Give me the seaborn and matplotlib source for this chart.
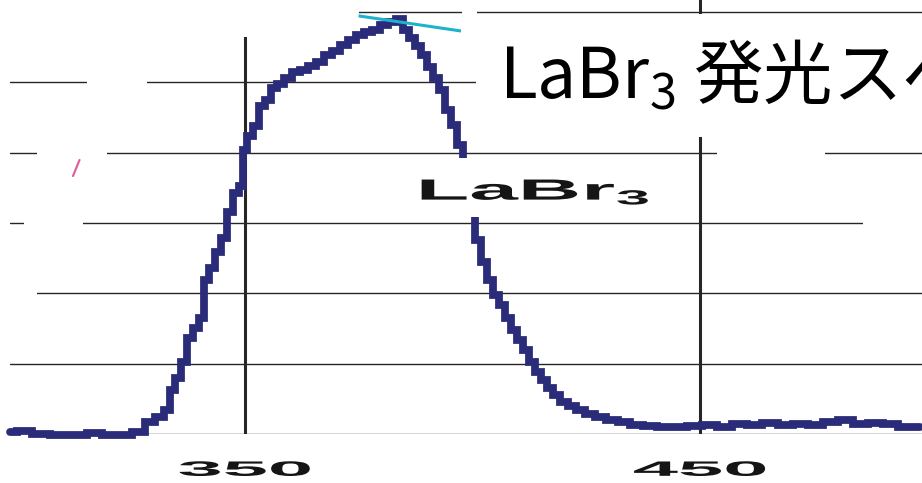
import numpy as np
import pandas as pd
import seaborn as sns
import matplotlib
matplotlib.use("Agg")
import matplotlib.pyplot as plt
from matplotlib.patches import Rectangle
from matplotlib.lines import Line2D
from matplotlib.patheffects import AbstractPathEffect
from matplotlib.transforms import Affine2D

# LaBr3 emission spectrum (wavelength in nm, relative intensity)
wavelength = [
    298.4, 301.6, 304.9, 309.3, 313.7, 317.0, 320.3, 323.6, 326.9, 329.1,
    331.3, 333.1, 334.0, 335.3, 336.6, 337.9, 339.2, 340.5, 341.4, 342.7,
    344.1, 345.4, 346.7, 348.0, 349.3, 349.8, 351.1, 352.4, 353.7, 355.1,
    356.4, 357.7, 359.5, 361.2, 363.0, 364.7, 366.5, 368.2, 370.0, 371.8,
    373.5, 375.3, 377.0, 378.8, 380.5, 382.3, 384.1, 385.4, 386.7, 388.0,
    389.3, 390.7, 392.0, 393.3, 394.6, 395.9, 397.3, 398.6, 399.9, 401.2,
    402.5, 403.8, 405.2, 406.5, 407.8, 409.1, 410.4, 411.8, 413.1, 414.4,
    415.7, 417.0, 418.4, 420.1, 421.9, 423.6, 425.8, 428.0, 430.7, 433.3,
    435.9, 439.0, 442.1, 445.6, 448.9, 452.2, 455.5, 458.8, 462.1, 465.4,
    468.7, 472.0, 475.3, 478.6, 481.9, 485.2, 488.5, 491.8, 495.1, 498.4,
]
intensity = [
    0.6, 0.9, 0.0, -0.3, -0.3, 0.3, -0.3, -0.3, 0.6, 3.4,
    4.8, 6.8, 12.5, 15.9, 20.5, 27.3, 30.1, 33.0, 43.8, 47.2,
    51.8, 55.7, 63.1, 68.5, 70.5, 80.8, 84.8, 87.6, 93.3, 95.0,
    98.4, 99.5, 101.2, 103.0, 103.5, 104.7, 105.8, 107.8, 108.9, 110.6,
    112.1, 113.5, 114.3, 114.9, 116.3, 117.2, 118.0, 114.9, 112.6, 110.3,
    107.8, 104.4, 101.2, 97.8, 92.1, 87.9, 82.2, 73.7, 63.7, 55.2,
    48.9, 43.8, 39.5, 36.7, 33.0, 29.6, 26.7, 23.9, 20.5, 17.6,
    15.4, 13.1, 11.1, 9.1, 8.0, 6.8, 5.7, 4.8, 4.0, 3.4,
    2.6, 2.3, 2.0, 2.0, 2.3, 2.6, 2.0, 2.8, 2.6, 3.1,
    2.6, 2.8, 2.6, 3.4, 4.0, 2.8, 3.1, 2.8, 2.0, 2.0,
]

# tangent drawn across the top of the peak
tangent_wavelength = [375.0, 397.5]
tangent_intensity = [118.9, 114.6]

major_ticks = [350, 450]
major_tick_labels = ["350", "450"]
minor_ticks = [400]
grid_levels = [0, 20, 40, 60, 80, 100, 120]

series_label = r"LaBr$_\mathregular{3}$"
title_text = r"LaBr$_\mathregular{3}$ 発光スペクトル"

W, H = 922, 483
CURVE = "#2a2c7a"
GRID = "#262626"


class Stretched(AbstractPathEffect):
    """Scale text glyphs about their own centre (wide display lettering)."""

    def __init__(self, sx=1.0, sy=1.0):
        super().__init__()
        self._sx = sx
        self._sy = sy

    def draw_path(self, renderer, gc, tpath, affine, rgbFace=None):
        ext = tpath.get_extents(affine)
        cx = 0.5 * (ext.x0 + ext.x1)
        cy = 0.5 * (ext.y0 + ext.y1)
        t = affine + Affine2D().translate(-cx, -cy).scale(self._sx, self._sy).translate(cx, cy)
        renderer.draw_path(gc, tpath, t, rgbFace)


sns.set_theme(style="white")
plt.rcParams["font.family"] = ["Liberation Sans", "DejaVu Sans"]

fig = plt.figure(figsize=(W / 100, H / 100), dpi=100)
fig.patch.set_facecolor("white")


def fx(px):
    return px / W


def fy(py):
    return 1 - py / H


# plot area: baseline 0 at y=434 px, 20 units per 70.33 px
ax = fig.add_axes([fx(10), fy(434), 1 - fx(10), 434 / H])
ax.set_facecolor("white")
ax.set_xlim(298.4, 498.8)
ax.set_ylim(0, 434 / 70.33 * 20)
ax.set_axisbelow(True)

df = pd.DataFrame({"wavelength": wavelength, "intensity": intensity})
sns.lineplot(data=df, x="wavelength", y="intensity", ax=ax, color=CURVE,
             lw=5.6, drawstyle="steps-mid", zorder=2, clip_on=False,
             solid_joinstyle="miter")

ax.plot(tangent_wavelength, tangent_intensity, color="#1eb2cc", lw=2.2, zorder=2.2,
        solid_capstyle="butt")

ax.set_yticks(grid_levels)
ax.set_yticklabels([])
ax.tick_params(axis="y", length=0)
ax.grid(axis="y", color=GRID, lw=1.0)

ax.set_xticks(major_ticks)
ax.set_xticklabels(major_tick_labels, fontsize=15, color="#151515", fontweight="bold",
                   path_effects=[Stretched(3.9, 1.0)])
ax.set_xticks(minor_ticks, minor=True)
ax.tick_params(axis="x", which="major", direction="out", length=5.8, width=2.2,
               color=GRID, pad=13.5)
ax.tick_params(axis="x", which="minor", direction="out", length=2.2, width=1.4,
               color=GRID)
ax.grid(axis="x", which="major", color=GRID, lw=2.2)
ax.set_xlabel("")
ax.set_ylabel("")
for s in ax.spines.values():
    s.set_visible(False)

# blank panels laid over the grid (pixel boxes x0, y0, x1, y1)
blank_boxes = [
    (0, 0, 359, 37),
    (462, 0, 477, 40),
    (87, 70, 147, 95),
    (37, 140, 107, 165),
    (24, 210, 83, 235),
    (0, 282, 37, 305),
    (476, 14, 922, 137),
    (717, 143, 825, 163),
    (863, 212, 922, 232),
]
for x0, y0, x1, y1 in blank_boxes:
    ax.add_patch(Rectangle((fx(x0), fy(y1)), fx(x1) - fx(x0), fy(y0) - fy(y1),
                           transform=fig.transFigure, facecolor="white",
                           edgecolor="none", zorder=1, clip_on=False))

# white ground behind the series label
ax.add_patch(Rectangle((fx(410), fy(217)), fx(662) - fx(410), fy(158) - fy(217),
                       transform=fig.transFigure, facecolor="white",
                       edgecolor="none", zorder=2.5, clip_on=False))
ax.text(413.7, 68.8, series_label, ha="center", va="center", fontsize=21,
        color="#151515", fontweight="bold", zorder=3,
        path_effects=[Stretched(3.0, 1.0)])

# small magenta stroke at the left
ax.add_line(Line2D([fx(73), fx(79.5)], [fy(176), fy(160)], transform=fig.transFigure,
                   color="#e0609f", lw=1.6, zorder=1.5, clip_on=False))

fig.text(fx(499), fy(98), title_text, fontsize=50, ha="left", va="baseline",
         color="black", family=["Noto Sans CJK JP", "DejaVu Sans"], zorder=5)

fig.savefig("out.png", dpi=100, facecolor="white")
